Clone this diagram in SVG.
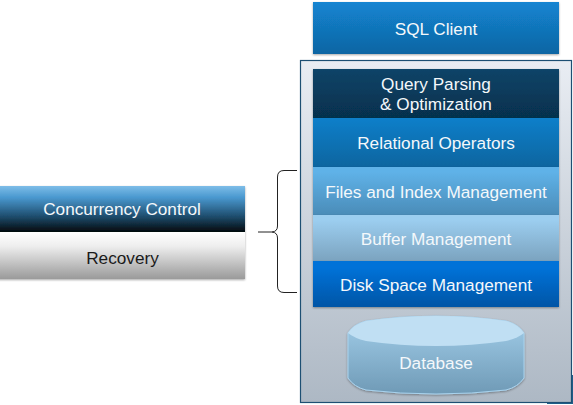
<svg xmlns="http://www.w3.org/2000/svg" width="573" height="405" viewBox="0 0 573 405">
<defs>
<linearGradient id="gClient" x1="0" y1="0" x2="0" y2="1"><stop offset="0" stop-color="#1385d2"/><stop offset="1" stop-color="#0f65a3"/></linearGradient>
<linearGradient id="gPanel" x1="0" y1="0" x2="0" y2="1"><stop offset="0" stop-color="#e9edf3"/><stop offset="1" stop-color="#adb8c4"/></linearGradient>
<linearGradient id="gQuery" x1="0" y1="0" x2="0" y2="1"><stop offset="0" stop-color="#0a4468"/><stop offset="1" stop-color="#06304d"/></linearGradient>
<linearGradient id="gRel" x1="0" y1="0" x2="0" y2="1"><stop offset="0" stop-color="#117fca"/><stop offset="1" stop-color="#0f659f"/></linearGradient>
<linearGradient id="gFiles" x1="0" y1="0" x2="0" y2="1"><stop offset="0.1" stop-color="#5fb2e8"/><stop offset="1" stop-color="#4b8cb8"/></linearGradient>
<linearGradient id="gBuf" x1="0" y1="0" x2="0" y2="1"><stop offset="0.1" stop-color="#9ccef0"/><stop offset="1" stop-color="#7ba3bf"/></linearGradient>
<linearGradient id="gDisk" x1="0" y1="0" x2="0" y2="1"><stop offset="0.15" stop-color="#0172d8"/><stop offset="1" stop-color="#0355a6"/></linearGradient>
<linearGradient id="gCyl" x1="0" y1="0" x2="0" y2="1"><stop offset="0" stop-color="#a3cfeb"/><stop offset="1" stop-color="#6f9ab6"/></linearGradient>
<linearGradient id="gCC" x1="0" y1="0" x2="0" y2="1"><stop offset="0" stop-color="#7dbde8"/><stop offset="0.25" stop-color="#4a98cf"/><stop offset="0.65" stop-color="#1f4f70"/><stop offset="1" stop-color="#03080c"/></linearGradient>
<linearGradient id="gRec" x1="0" y1="0" x2="0" y2="1"><stop offset="0" stop-color="#ffffff"/><stop offset="0.3" stop-color="#eeeeee"/><stop offset="1" stop-color="#9a9a9a"/></linearGradient>
<filter id="sh" x="-5%" y="-10%" width="110%" height="125%"><feDropShadow dx="0" dy="1" stdDeviation="1" flood-color="#000" flood-opacity="0.35"/></filter>
</defs>
<style>
text{font-family:"Liberation Sans",Arial,sans-serif;font-size:17.2px;text-anchor:middle;fill:#f4f8fb}
.bar{filter:url(#sh)}
.line{fill:none;stroke:#222;stroke-width:1}
</style>
<rect x="0" y="0" width="573" height="405" fill="#fff"/>
<rect x="547" y="375" width="26" height="29" fill="#1f5f8b"/>
<g id="sql-client"><rect class="bar" x="313" y="2" width="246" height="52" fill="url(#gClient)"/><text x="436" y="35">SQL Client</text></g>
<g id="dbms-panel"><rect x="300.500" y="60.500" width="271" height="342" fill="url(#gPanel)" stroke="#1d4f73" stroke-width="1.200"/></g>
<g id="query-parsing"><rect class="bar" x="313" y="69" width="246" height="49" fill="url(#gQuery)"/><text x="436" y="90">Query Parsing</text><text x="436" y="110">&amp; Optimization</text></g>
<g id="relational-operators"><rect class="bar" x="313" y="118" width="246" height="49" fill="url(#gRel)"/><text x="436" y="149">Relational Operators</text></g>
<g id="files-index"><rect class="bar" x="313" y="167" width="246" height="48" fill="url(#gFiles)"/><text x="436" y="198">Files and Index Management</text></g>
<g id="buffer-management"><rect class="bar" x="313" y="215" width="246" height="46" fill="url(#gBuf)"/><text x="436" y="245">Buffer Management</text></g>
<g id="disk-space"><rect class="bar" x="313" y="261" width="246" height="46" fill="url(#gDisk)"/><text x="436" y="291">Disk Space Management</text></g>
<g id="database">
<path class="bar" d="M348 333Q354 324 366 321Q400 316 436 316Q472 316 506 321Q518 324 524 333V378Q518 387 506 390Q472 394 436 394Q400 394 366 390Q354 387 348 378Z" fill="url(#gCyl)" stroke="#a9d3ee" stroke-width="1"/>
<path d="M348 333Q354 324 366 321Q400 316 436 316Q472 316 506 321Q518 324 524 333Q518 338 506 341Q472 346 436 346Q400 346 366 341Q354 338 348 333Z" fill="#c0dff3"/>
<text x="436" y="369">Database</text>
</g>
<g id="concurrency-control"><rect class="bar" x="-2" y="186" width="247" height="46" fill="url(#gCC)"/><text x="122" y="215">Concurrency Control</text></g>
<g id="recovery"><rect class="bar" x="-2" y="232" width="247" height="47" fill="url(#gRec)"/><text x="122.500" y="264" style="fill:#1a1a1a">Recovery</text></g>
<g id="connectors"><path class="line" d="M297 170.500H284Q277.500 170.500 277.500 177V226Q277.500 231.500 272 232H258M272 232Q277.500 232.500 277.500 238V286Q277.500 292.500 284 292.500H297"/></g>
</svg>
